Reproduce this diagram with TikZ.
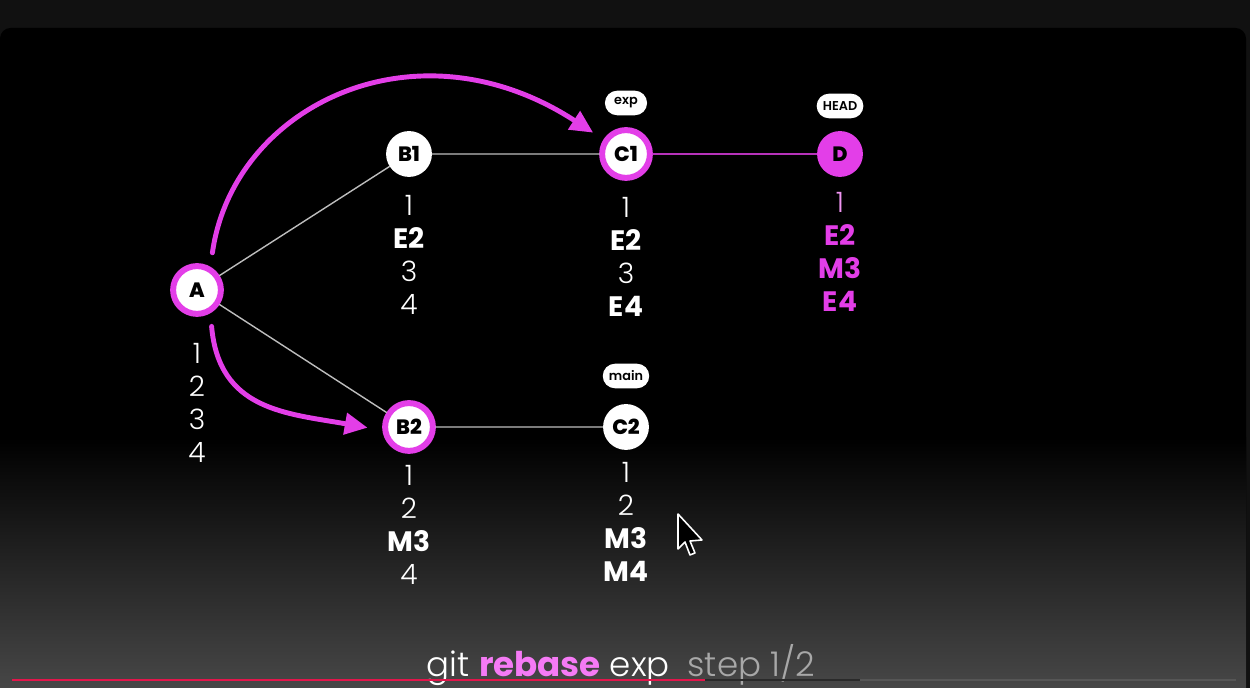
\documentclass[tikz,border=0pt]{standalone}
\usepackage{fontspec}
\setmainfont{Poppins}
\newfontfamily\thinfont{Poppins Light}
\newfontfamily\tagfont{Poppins SemiBold}
\newfontfamily\heavyfont{Poppins ExtraBold}
\usetikzlibrary{arrows.meta}
\definecolor{bgtop}{HTML}{111111}
\definecolor{bgbottom}{HTML}{474747}
\definecolor{rebase}{HTML}{E33EE8}
\definecolor{rebasetxt}{HTML}{F57AF5}
\definecolor{linkgray}{HTML}{BDBDBD}
\definecolor{capgray}{HTML}{A8A8A8}
\definecolor{barred}{HTML}{E3154B}
\definecolor{bardark}{HTML}{2A2A2A}
\definecolor{barlight}{HTML}{565656}
\newcommand{\changed}[1]{{\normalfont\bfseries #1}}

\begin{document}
\begin{tikzpicture}[x=0.02cm,y=0.02cm,line join=round,line cap=round,
	commit/.style={circle,fill=white,text=black,minimum size=26.1pt,inner sep=0pt,font=\heavyfont\fontsize{11.8}{14}\selectfont},
	moved/.style={commit,draw=rebase,line width=3.4pt,minimum size=27.2pt},
	tip/.style={commit,fill=rebase},
	tag/.style={fill=white,text=black,rounded corners=7pt,minimum width=24pt,minimum height=14pt,inner xsep=3.5pt,inner ysep=0pt,font=\tagfont\fontsize{7.3}{8}\selectfont},
	hist/.style={anchor=north,align=center,inner sep=0pt,text=white,font=\thinfont\fontsize{16}{18.7}\selectfont},
	link/.style={draw=linkgray,line width=0.8pt},
	jump/.style={draw=rebase,line width=2.8pt,-{Triangle[length=13pt,width=12pt]}}]
	\useasboundingbox (0,0) rectangle (1250,688);
	% background
	\fill[bgtop] (0,0) rectangle (1250,688);
	\fill[black,rounded corners=6pt] (0,-20) rectangle (1246,660);
	\shade[top color=black,bottom color=bgbottom] (0,0) rectangle (1246,250);
	% commits
	\node[moved] (A) at (197,398) {A};
	\node[commit] (B1) at (409,534) {B1};
	\node[moved] (C1) at (626,534) {C1};
	\node[tip] (D) at (840,534) {D};
	\node[moved] (B2) at (409,261) {B2};
	\node[commit] (C2) at (626,261) {C2};
	\draw[link] (A)--(B1) (A)--(B2) (B1)--(C1) (B2)--(C2);
	\draw[link,draw=rebase!80!black,line width=0.7pt] (C1)--(D);
	% branch tags
	\node[tag] (exp) at (626,585) {exp};
	\node[tag] (head) at (840,582) {HEAD};
	\node[tag] (main) at (626,312) {main};
	% file states
	\node[hist] (A list) at (197,345) {1\\2\\3\\4};
	\node[hist] (B1 list) at (409,493) {1\\\changed{E2}\\3\\4};
	\node[hist] (C1 list) at (626,491) {1\\\changed{E2}\\3\\\changed{E4}};
	\node[hist,text=rebase] (D list) at (840,496) {{\color{rebase!55!white}1}\\\changed{E2}\\\changed{M3}\\\changed{E4}};
	\node[hist] (B2 list) at (409,223) {1\\2\\\changed{M3}\\4};
	\node[hist] (C2 list) at (626,226) {1\\2\\\changed{M3}\\\changed{M4}};
	% moves
	\draw[jump,shorten <=8pt,shorten >=7pt] (A.60) to[out=82,in=147,out distance=92pt,in distance=128pt] (C1.147);
	\draw[jump,shorten <=7.5pt,shorten >=8.5pt] (A.-60) to[out=-85,in=170,looseness=1.2] (B2.187);
	% pointer
	\draw[white,fill=black,line width=0.9pt] (678,174)--(678,139)--(685,146)--(690,133)--(695,135)--(690,147)--(702,148)--cycle;
	% caption
	\node[anchor=base,text=white,font=\fontsize{19.4}{21}\selectfont] (cmd) at (621,11)
		{{\thinfont git} {\bfseries\color{rebasetxt}rebase} {\thinfont exp}\hspace{0.25em} {\thinfont\color{capgray}step 1/2}};
	\draw[barlight,line width=1.5pt,line cap=butt] (860,8)--(1236,8);
	\draw[bardark,line width=1.7pt,line cap=butt] (705,8)--(860,8);
	\draw[barred,line width=1.7pt,line cap=butt] (12,8)--(705,8);
\end{tikzpicture}
\end{document}
